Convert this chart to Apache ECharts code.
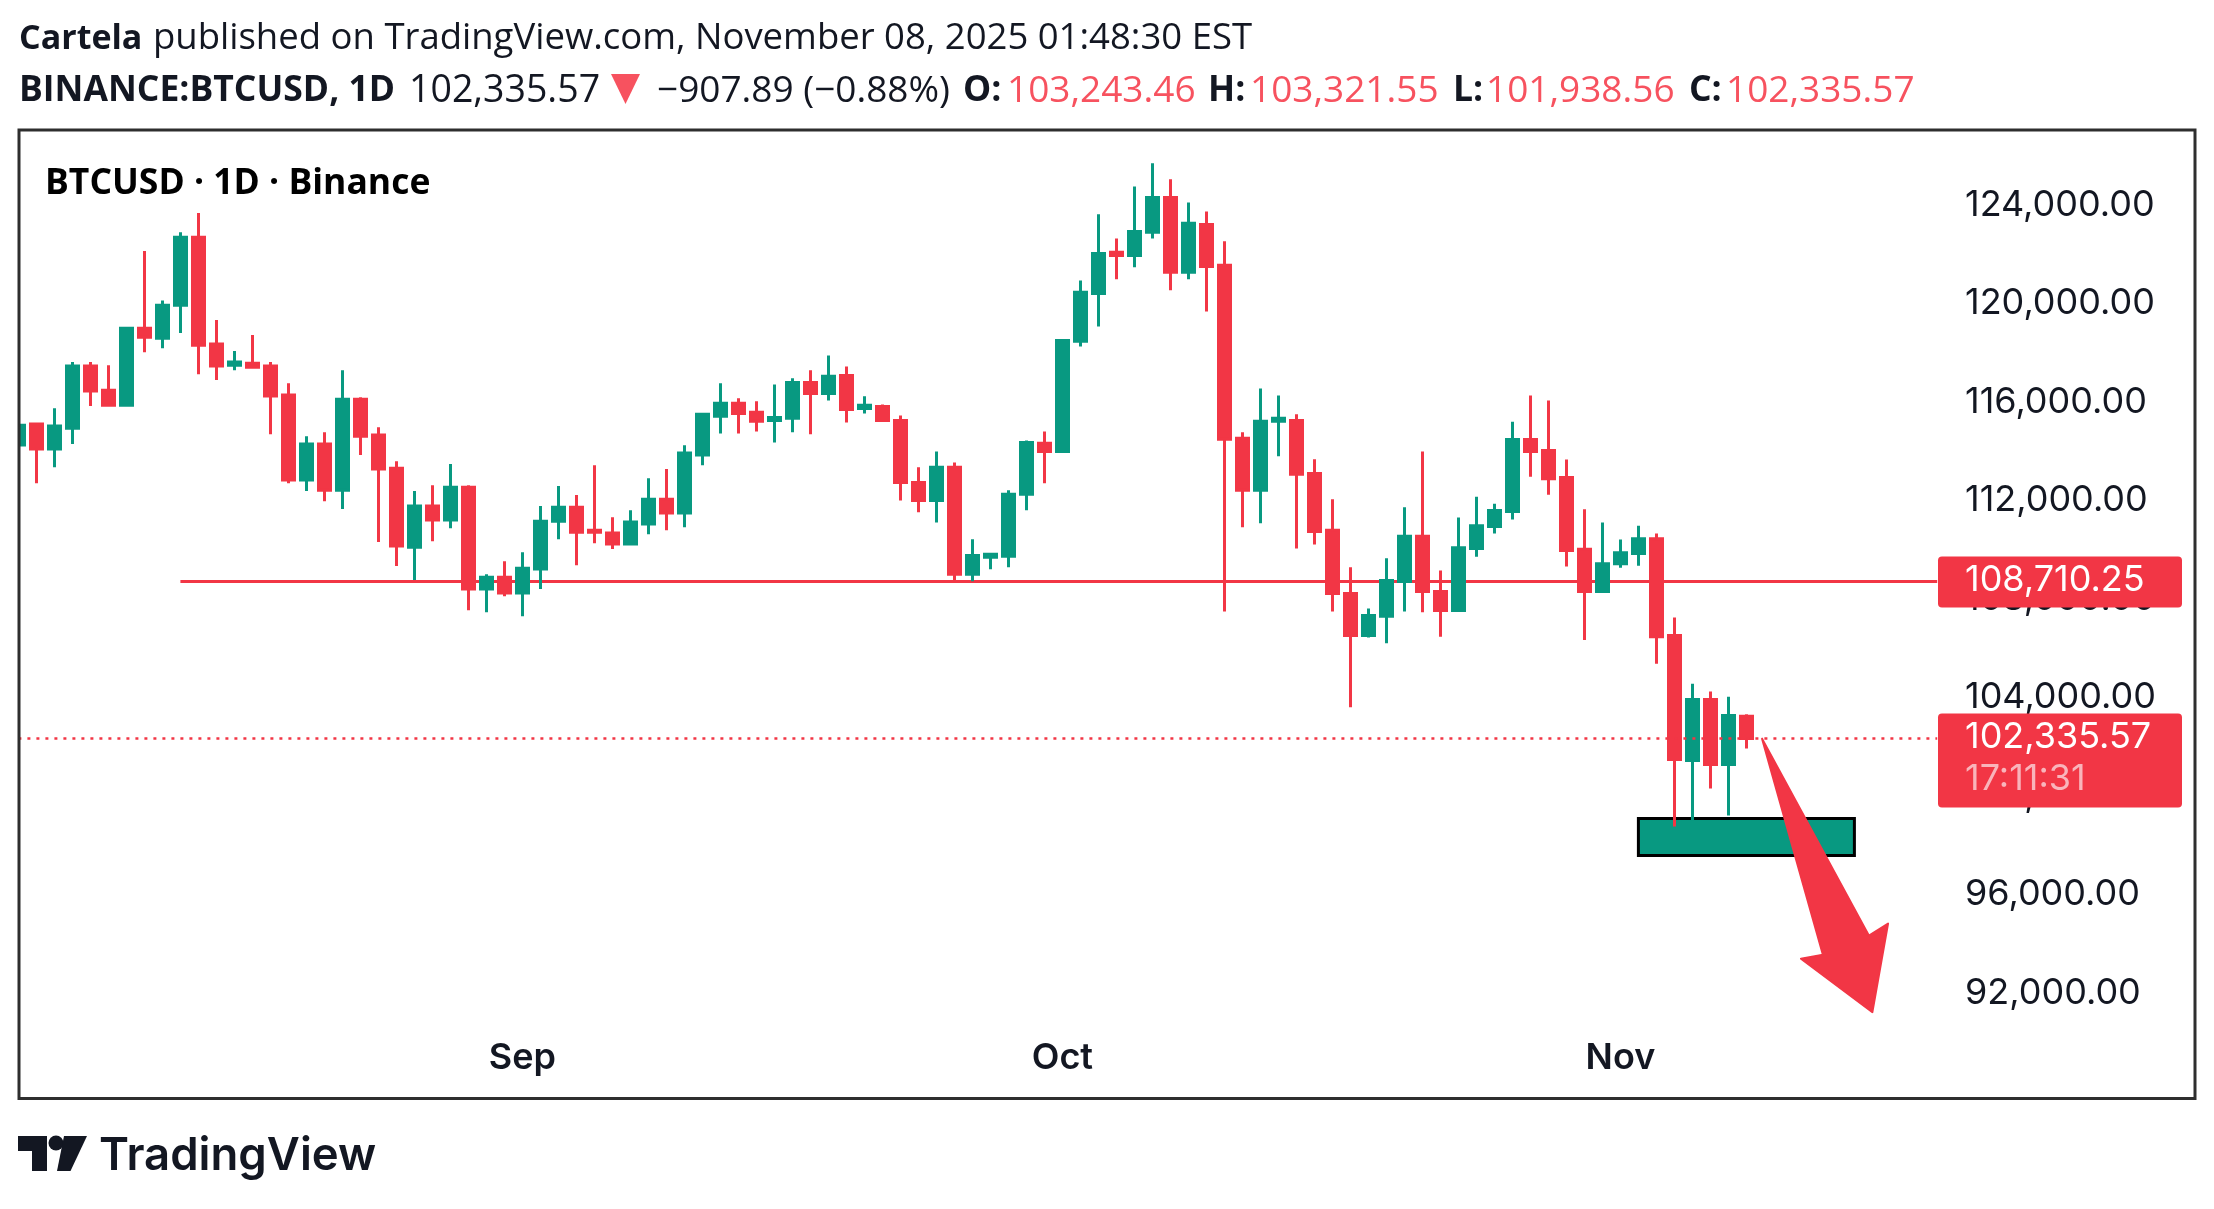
<!DOCTYPE html>
<html>
<head>
<meta charset="utf-8">
<title>BTCUSD</title>
<script src="https://cdn.jsdelivr.net/npm/echarts@6/dist/echarts.min.js"></script>
<style>
	html, body { margin: 0; padding: 0; background: #fff; }
	#main { width: 2214px; height: 1209px; }
</style>
</head>
<body>
<div id="main"></div>
<script>
// daily candles, first one is Aug 4 2025
var opens = [114260,115106,114095,114940,117459,116481,115868,119000,118586,119928,122695,118354,117492,117575,117459,116282,112836,114294,112422,116117,114659,113316,110102,111775,111212,112538,108412,108892,108246,109224,111162,111726,110798,110682,110234,111046,112057,111494,113847,115421,115951,115587,115255,115338,116796,116349,117078,115736,115819,115255,112737,112007,113350,109008,109704,109737,112256,114327,113996,118470,120408,122082,121949,122894,124302,121270,123209,121552,114526,112422,115222,115255,113101,110798,108229,106523,107302,108710,110549,108312,107534,110052,110947,111560,114476,114029,112935,110019,108312,109439,109853,110450,106523,101452,103921,101287,103243.46];
var closes = [115056,114095,115023,117459,116448,115868,119000,118635,119928,122695,118304,117459,117625,117409,116249,112836,114294,112422,116117,114609,113283,110152,111775,111212,112538,108412,108892,108246,109257,111162,111726,110715,110715,110234,111129,112057,111494,113930,115504,115951,115537,115222,115371,116796,116349,117045,115703,115868,115255,112737,112007,113350,109008,109770,109820,112256,114360,113996,118503,120458,122032,121949,122927,124302,121270,123258,121502,114493,112422,115222,115338,113068,110748,108229,106523,107335,108760,110549,108312,107534,110085,110980,111593,114476,113996,112886,109969,108312,109439,109886,110450,106473,101485,103921,101287,103275,102335.57];
var highs = [115060,115139,115752,117625,117625,117492,119033,122132,120127,122894,123673,119331,118072,118718,117625,116763,114609,114775,117293,116200,114973,113598,112389,112621,113482,112621,109008,109539,109903,111775,112587,112223,113432,111328,111610,112902,113283,114244,115504,116763,116150,116034,116713,116962,117293,117890,117442,116233,115901,115454,113350,113996,113548,110433,109853,112422,114443,114808,118553,120939,123623,122645,124750,125694,125048,124103,123739,122529,114775,116548,116266,115504,113681,112057,109290,107616,109654,111726,113996,109157,111311,112157,111875,115205,116266,116067,113664,111643,111113,110417,110980,110665,107252,104567,104253,104037,103321.55];
var lows = [114260,112703,113350,114294,115835,115835,115868,118022,118188,118801,117128,116896,117293,117360,114692,112703,112389,111974,111659,113847,110317,109340,108776,110350,110881,107550,107467,108113,107302,108412,110433,109373,110268,110036,110234,110632,110798,110914,113432,114725,114725,114808,114360,114775,114692,116067,115172,115537,115222,112007,111527,111113,108710,108727,109207,109290,111610,112703,113963,118254,119066,120988,121469,122645,120541,120988,119679,107500,110914,111080,113797,110052,110218,107500,103606,106440,106208,107500,107467,106473,107500,109721,110665,111229,112968,112239,109323,106340,108312,109273,109356,105379,98768,99017,100309,99215,101938.56];

var monthLabels = { 28: 'Sep', 58: 'Oct', 89: 'Nov' };
var priceTicks = [88000, 128000, 4000];
var barCount = 122;

var supportLevel = 108710.25;
var supportSpan = [9, 106.6];
var lastPrice = 102335.57;
var lastPriceSpan = [0, 106.6];
var countdown = '17:11:31';
var boxIdx = [90, 102];
var boxPrice = [99088, 97585];
// arrow outline as [bar index, price]
var arrowPoints = [[96.87, 102336], [102.81, 94337], [103.87, 94824], [103, 91231], [99.03, 93403], [100.25, 93566]];

var RED = '#F23645';
var GREEN = '#089981';
var INK = '#131722';
var SOFT_RED = '#F7525F';

var categories = [];
var candles = [];
for (var i = 0; i < barCount; i++) {
	categories.push(String(i));
	if (i < opens.length) {
		candles.push([opens[i], closes[i], lows[i], highs[i]]);
	}
}

function money(v) {
	return v.toLocaleString('en-US', { minimumFractionDigits: 2, maximumFractionDigits: 2 });
}

function hdr(x, y, text, size, weight, fill) {
	return {
		type: 'text',
		x: x,
		y: y,
		style: {
			text: text,
			fill: fill || INK,
			font: (weight || 'normal') + ' ' + size + 'px "Open Sans"',
			verticalAlign: 'middle'
		}
	};
}

function renderLevels(params, api) {
	var a = api.coord([supportSpan[0], supportLevel]);
	var b = api.coord([supportSpan[1], supportLevel]);
	var c = api.coord([boxIdx[0], boxPrice[0]]);
	var d = api.coord([boxIdx[1], boxPrice[1]]);
	return {
		type: 'group',
		children: [
			{
				type: 'rect',
				shape: { x: c[0], y: c[1], width: d[0] - c[0], height: d[1] - c[1] },
				style: { fill: GREEN, stroke: '#000', lineWidth: 3 }
			},
			{
				type: 'line',
				shape: { x1: a[0], y1: a[1], x2: b[0], y2: b[1] },
				style: { stroke: RED, lineWidth: 3 }
			}
		]
	};
}

function tag(y, h, lines) {
	var left = 1938, right = 2182;
	var out = [{
		type: 'rect',
		shape: { x: left, y: y, width: right - left, height: h, r: 4 },
		style: { fill: RED }
	}];
	lines.forEach(function (l) {
		out.push({
			type: 'text',
			style: {
				x: 1965,
				y: l[1],
				text: l[0],
				fill: l[2],
				font: '36px Inter',
				verticalAlign: 'middle'
			}
		});
	});
	return out;
}

function renderOverlay(params, api) {
	var a = api.coord([lastPriceSpan[0], lastPrice]);
	var b = api.coord([lastPriceSpan[1], lastPrice]);
	var sup = api.coord([0, supportLevel])[1];
	var points = arrowPoints.map(function (p) {
		return api.coord(p);
	});
	var children = [
		{
			type: 'line',
			shape: { x1: a[0], y1: a[1], x2: b[0], y2: b[1] },
			style: { stroke: RED, lineWidth: 2.5, lineDash: [3, 6] }
		},
		{
			type: 'polygon',
			shape: { points: points },
			style: { fill: RED, stroke: RED, lineWidth: 2, lineJoin: 'round' }
		}
	];
	children = children.concat(tag(sup - 25, 51, [[money(supportLevel), sup - 1, '#fff']]));
	children = children.concat(tag(a[1] - 25, 94, [
		[money(lastPrice), a[1] - 1, '#fff'],
		[countdown, a[1] + 41, '#F9B4BB']
	]));
	return { type: 'group', children: children };
}

var myChart = echarts.init(document.getElementById('main'));
var option = {
	animation: false,
	backgroundColor: '#fff',
	grid: {
		left: 9.4,
		right: 8.6,
		top: 106.5,
		height: 985.2
	},
	xAxis: [
		{
			type: 'category',
			data: categories,
			axisLine: { show: false },
			axisTick: { show: false },
			splitLine: { show: false },
			axisLabel: {
				inside: true,
				interval: 0,
				margin: 16,
				color: INK,
				fontFamily: 'Inter',
				fontWeight: 600,
				fontSize: 36,
				formatter: function (v, idx) {
					return monthLabels[idx] || '';
				}
			}
		},
		{
			type: 'value',
			show: false,
			position: 'top',
			min: -0.5,
			max: barCount - 0.5,
			splitLine: { show: false }
		}
	],
	yAxis: {
		type: 'value',
		position: 'left',
		offset: -1955.6,
		min: priceTicks[0],
		max: priceTicks[1],
		interval: priceTicks[2],
		axisLine: { show: false },
		axisTick: { show: false },
		splitLine: { show: false },
		axisLabel: {
			margin: 0,
			align: 'left',
			padding: [0, 0, 5, 0],
			color: INK,
			fontFamily: 'Inter',
			fontSize: 36,
			showMinLabel: false,
			showMaxLabel: false,
			formatter: function (v) {
				return money(v);
			}
		}
	},
	graphic: {
		elements: [
			// covers the part of the first candle left of the frame
			{ type: 'rect', z: 90, shape: { x: 0, y: 130, width: 19, height: 968 }, style: { fill: '#fff' } },
			{ type: 'rect', z: 91, shape: { x: 19, y: 130, width: 2176, height: 968.5 }, style: { fill: 'none', stroke: '#2e2e2e', lineWidth: 3 } },

			hdr(19, 39, 'Cartela', 34, 'bold'),
			hdr(153, 39, 'published on TradingView.com, November 08, 2025 01:48:30 EST', 36.5),
			hdr(19, 91, 'BINANCE:BTCUSD, 1D', 35.5, 'bold'),
			hdr(409, 91, money(lastPrice), 37.5),
			{ type: 'polygon', shape: { points: [[611, 74], [640, 74], [625.5, 104]] }, style: { fill: SOFT_RED } },
			hdr(657, 91, '\u2212907.89 (\u22120.88%)', 37),
			hdr(963, 91, 'O:', 35.5, 'bold'),
			hdr(1007, 91, '103,243.46', 37, 'normal', SOFT_RED),
			hdr(1208, 91, 'H:', 35.5, 'bold'),
			hdr(1250, 91, '103,321.55', 37, 'normal', SOFT_RED),
			hdr(1453, 91, 'L:', 35.5, 'bold'),
			hdr(1486, 91, '101,938.56', 37, 'normal', SOFT_RED),
			hdr(1689, 91, 'C:', 35.5, 'bold'),
			hdr(1726, 91, '102,335.57', 37, 'normal', SOFT_RED),

			hdr(45, 184, 'BTCUSD \u00b7 1D \u00b7 Binance', 35.5, 'bold', '#000'),

			// logo
			{ type: 'polygon', shape: { points: [[18, 1136], [47, 1136], [47, 1171], [32, 1171], [32, 1151], [18, 1151]] }, style: { fill: INK } },
			{ type: 'circle', shape: { cx: 56, cy: 1143, r: 7.5 }, style: { fill: INK } },
			{ type: 'polygon', shape: { points: [[64, 1136], [87, 1136], [70.5, 1171], [57, 1171]] }, style: { fill: INK } },
			{ type: 'text', x: 99, y: 1156, style: { text: 'TradingView', fill: INK, font: '600 45.5px Inter', verticalAlign: 'middle' } }
		]
	},
	series: [
		{
			name: 'levels',
			type: 'custom',
			xAxisIndex: 1,
			z: 1,
			silent: true,
			renderItem: renderLevels,
			data: [[0, supportLevel]]
		},
		{
			name: 'BTCUSD',
			type: 'candlestick',
			z: 2,
			barWidth: 12,
			itemStyle: {
				color: GREEN,
				color0: RED,
				borderColor: GREEN,
				borderColor0: RED,
				borderWidth: 3
			},
			data: candles
		},
		{
			name: 'overlay',
			type: 'custom',
			xAxisIndex: 1,
			z: 3,
			silent: true,
			renderItem: renderOverlay,
			data: [[0, lastPrice]]
		}
	]
};
myChart.setOption(option);
</script>
</body>
</html>
